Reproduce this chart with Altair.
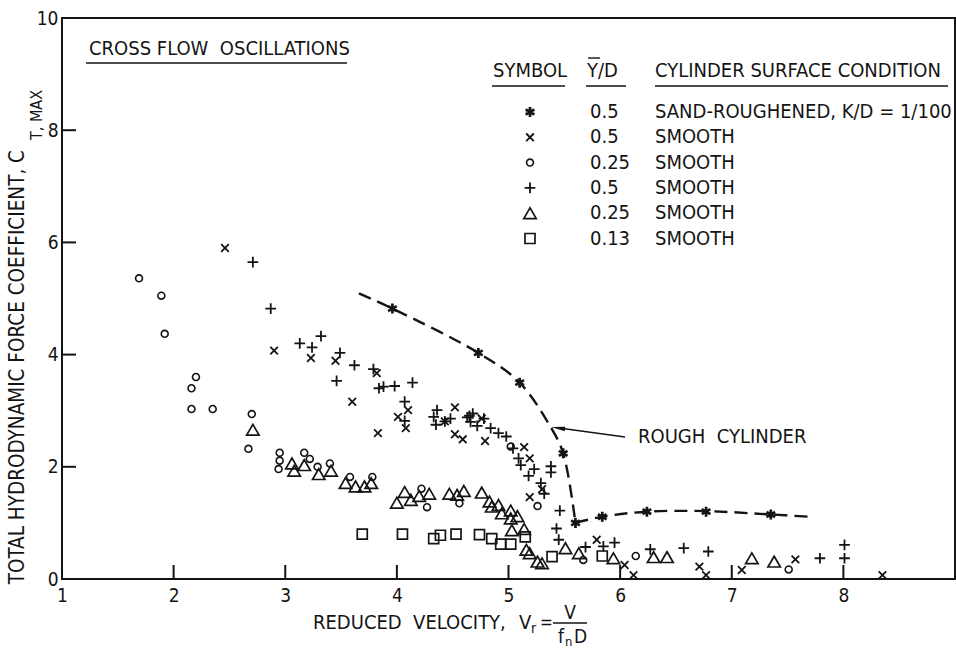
import altair as alt
import pandas as pd

# ---------------- data ----------------
# Sand-roughened cylinder, Y/D = 0.5  (asterisks)
rough_x = [3.96, 4.73, 5.10, 5.49, 5.60, 5.84, 6.24, 6.77, 7.35]
rough_y = [4.82, 4.03, 3.50, 2.24, 1.00, 1.11, 1.20, 1.20, 1.15]

# dashed fairing curve through the rough-cylinder results (falling and level branches)
curve_fall_x = [3.66, 3.96, 4.73, 5.10, 5.38, 5.49, 5.60]
curve_fall_y = [5.09, 4.82, 4.03, 3.50, 2.70, 2.24, 1.00]
curve_level_x = [5.60, 5.84, 6.24, 6.77, 7.35, 7.70]
curve_level_y = [1.00, 1.11, 1.20, 1.21, 1.15, 1.11]

# Smooth, Y/D = 0.5  (crosses)
xmark_x = [2.46, 2.90, 3.23, 3.45, 3.60, 3.82, 3.83, 4.01, 4.10, 4.08, 4.43, 4.52,
           4.52, 4.59, 4.76, 4.79, 5.14, 5.19, 5.30, 5.19, 5.79, 6.04, 6.12, 6.71,
           6.77, 7.09, 7.57, 8.35]
xmark_y = [5.90, 4.07, 3.94, 3.89, 3.16, 3.67, 2.60, 2.89, 3.01, 2.69, 2.81, 3.06,
           2.58, 2.49, 2.86, 2.46, 2.35, 2.15, 1.60, 1.46, 0.70, 0.25, 0.07, 0.22,
           0.07, 0.16, 0.35, 0.07]

# Smooth, Y/D = 0.25  (circles)
circle_x = [1.69, 1.89, 1.92, 2.20, 2.16, 2.16, 2.35, 2.70, 2.67, 2.95, 2.95, 2.94,
            3.17, 3.22, 3.29, 3.40, 3.58, 3.78, 4.22, 4.27, 4.56, 5.02, 5.26, 5.67,
            6.14, 7.51]
circle_y = [5.36, 5.05, 4.37, 3.60, 3.40, 3.03, 3.03, 2.94, 2.32, 2.25, 2.11, 1.96,
            2.25, 2.14, 2.00, 2.06, 1.82, 1.82, 1.61, 1.28, 1.35, 2.36, 1.30, 0.34,
            0.41, 0.17]

# Smooth, Y/D = 0.5  (plus signs)
plus_x = [2.71, 2.87, 3.13, 3.24, 3.32, 3.49, 3.46, 3.62, 3.79, 3.84, 3.88, 3.98,
          4.14, 4.07, 4.07, 4.36, 4.33, 4.35, 4.43, 4.48, 4.63, 4.65, 4.68, 4.72,
          4.66, 4.78, 4.84, 4.91, 4.98, 5.04, 5.09, 5.11, 5.23, 5.18, 5.29, 5.32,
          5.38, 5.38, 5.46, 5.43, 5.45, 5.69, 5.85, 5.95, 6.27, 6.57, 6.79, 7.79,
          8.01, 8.01]
plus_y = [5.65, 4.82, 4.20, 4.13, 4.33, 4.03, 3.53, 3.81, 3.74, 3.40, 3.43, 3.44,
          3.50, 3.16, 2.82, 3.01, 2.89, 2.75, 2.81, 2.86, 2.88, 2.91, 2.95, 2.73,
          2.80, 2.86, 2.69, 2.60, 2.54, 2.33, 2.15, 2.03, 1.96, 1.84, 1.71, 1.52,
          2.01, 1.90, 1.22, 0.90, 0.70, 0.57, 0.58, 0.65, 0.53, 0.55, 0.49, 0.37,
          0.61, 0.37]

# Smooth, Y/D = 0.25  (triangles)
tri_x = [2.71, 3.06, 3.08, 3.17, 3.30, 3.41, 3.54, 3.63, 3.71, 3.77, 4.00, 4.07,
         4.125, 4.20, 4.29, 4.47, 4.54, 4.60, 4.76, 4.83, 4.85, 4.91, 4.94, 5.02,
         5.02, 5.08, 5.03, 5.14, 5.16, 5.19, 5.26, 5.30, 5.51, 5.63, 5.94, 6.30,
         6.42, 7.18, 7.38]
tri_y = [2.66, 2.06, 1.93, 2.03, 1.87, 1.93, 1.71, 1.65, 1.65, 1.71, 1.36, 1.55,
         1.41, 1.48, 1.52, 1.52, 1.50, 1.57, 1.54, 1.38, 1.29, 1.32, 1.17, 1.22,
         1.08, 1.12, 0.87, 0.89, 0.52, 0.46, 0.31, 0.28, 0.55, 0.46, 0.37, 0.39,
         0.39, 0.37, 0.31]

# Smooth, Y/D = 0.13  (squares)
square_x = [3.69, 4.05, 4.33, 4.39, 4.53, 4.74, 4.85, 4.93, 5.02, 5.15, 5.39, 5.84]
square_y = [0.80, 0.80, 0.72, 0.78, 0.80, 0.79, 0.72, 0.62, 0.62, 0.75, 0.40, 0.41]

# axis ticks
x_ticks = [1, 2, 3, 4, 5, 6, 7, 8]
y_ticks = [0, 2, 4, 6, 8, 10]

# legend table
legend_symbol = ["star", "x", "circle", "plus", "triangle", "square"]
legend_yd = ["0.5", "0.5", "0.25", "0.5", "0.25", "0.13"]
legend_cond = ["SAND-ROUGHENED, K/D = 1/100", "SMOOTH", "SMOOTH", "SMOOTH",
               "SMOOTH", "SMOOTH"]

# ---------------- styling ----------------
INK = "#141414"
FONT = "DejaVu Sans Condensed"
FS = 20
W, H = 893, 561
X_MIN, X_MAX, Y_MIN, Y_MAX = 1, 9, 0, 10
TICK_PX = 14

PLUS = "M-1,0L1,0M0,-1L0,1"
CROSS = "M-1,-1L1,1M-1,1L1,-1"
STAR = "M0,-1L0,1M-0.87,-0.5L0.87,0.5M-0.87,0.5L0.87,-0.5"
ARROW_HEAD = "M-1,0L1,-0.32L1,0.32Z"

SHAPES = {
    "star": (STAR, 100, 2.7),
    "x": (CROSS, 58, 1.8),
    "circle": ("circle", 48, 1.6),
    "plus": (PLUS, 115, 1.8),
    "triangle": ("triangle-up", 155, 1.7),
    "square": ("square", 100, 1.7),
}

xscale = alt.Scale(domain=[X_MIN, X_MAX], nice=False, zero=False)
yscale = alt.Scale(domain=[Y_MIN, Y_MAX], nice=False, zero=False)

x_axis = alt.Axis(values=x_ticks, title=None, grid=False, domain=False, ticks=False,
                  labelFont=FONT, labelFontSize=19, labelColor=INK, labelPadding=7,
                  labelFlush=False, format="d")
y_axis = alt.Axis(values=y_ticks, title=None, grid=False, domain=False, ticks=False,
                  labelFont=FONT, labelFontSize=19, labelColor=INK, labelPadding=4,
                  labelFlush=False, format="d")


def X(field="x"):
    return alt.X(f"{field}:Q", scale=xscale, axis=x_axis)


def Y(field="y"):
    return alt.Y(f"{field}:Q", scale=yscale, axis=y_axis)


def series(xs, ys, kind):
    shape, size, sw = SHAPES[kind]
    df = pd.DataFrame({"x": xs, "y": ys})
    return alt.Chart(df).mark_point(
        shape=shape, size=size, strokeWidth=sw, filled=False, color=INK, opacity=1
    ).encode(x=X(), y=Y())


def dashed(xs, ys):
    df = pd.DataFrame({"x": xs, "y": ys})
    return alt.Chart(df).mark_line(
        color=INK, strokeWidth=2.4, strokeDash=[13, 7], interpolate="catmull-rom"
    ).encode(x=X(), y=Y(), order="x:Q")


ONE = pd.DataFrame({"k": [0]})
NB = "\u00a0"


def text(label, px, py, size=FS, align="left", angle=0, baseline="middle"):
    return alt.Chart(pd.DataFrame({"t": [label]})).mark_text(
        font=FONT, fontSize=size, color=INK, align=align, baseline=baseline, angle=angle
    ).encode(x=alt.value(px), y=alt.value(py), text="t:N")


def seg(x1, y1, x2, y2, width=1.6):
    return alt.Chart(ONE).mark_rule(color=INK, strokeWidth=width).encode(
        x=alt.value(x1), y=alt.value(y1), x2=alt.value(x2), y2=alt.value(y2))


def symbol(kind, px, py):
    shape, size, sw = SHAPES[kind]
    return alt.Chart(ONE).mark_point(
        shape=shape, size=size, strokeWidth=sw, filled=False, color=INK, opacity=1
    ).encode(x=alt.value(px), y=alt.value(py))


layers = []

# inward tick marks: short strokes from each axis value into the plot
tick_x = pd.DataFrame({"x": x_ticks})
tick_y = pd.DataFrame({"y": y_ticks})
layers.append(alt.Chart(tick_x).mark_tick(
    orient="vertical", color=INK, thickness=2, size=TICK_PX, opacity=1
).encode(x=X(), y=alt.value(H - TICK_PX / 2)))
layers.append(alt.Chart(tick_y).mark_tick(
    orient="horizontal", color=INK, thickness=2, size=TICK_PX, opacity=1
).encode(y=Y(), x=alt.value(TICK_PX / 2)))

# dashed curve for the rough cylinder
layers.append(dashed(curve_fall_x, curve_fall_y))
layers.append(dashed(curve_level_x, curve_level_y))

# data series
layers.append(series(square_x, square_y, "square"))
layers.append(series(tri_x, tri_y, "triangle"))
layers.append(series(circle_x, circle_y, "circle"))
layers.append(series(xmark_x, xmark_y, "x"))
layers.append(series(plus_x, plus_y, "plus"))
layers.append(series(rough_x, rough_y, "star"))

# panel heading
layers.append(text("CROSS FLOW" + NB + " OSCILLATIONS", 27, 31))
layers.append(seg(24, 45, 285, 45, 1.4))

# legend heading
layers.append(text("SYMBOL", 431, 53))
layers.append(text("Y/D", 525, 53))
layers.append(text("CYLINDER SURFACE CONDITION", 593, 53))
layers.append(seg(430, 68, 503, 68, 1.4))
layers.append(seg(524, 68, 564, 68, 1.4))
layers.append(seg(593, 68, 886, 68, 1.4))
layers.append(seg(526, 40, 538, 40, 1.4))

# legend rows
row0, row_step = 94, 25.3
for i, (kind, yd, cond) in enumerate(zip(legend_symbol, legend_yd, legend_cond)):
    py = row0 + i * row_step
    layers.append(symbol(kind, 468, py))
    layers.append(text(yd, 528, py))
    layers.append(text(cond, 593, py))

# annotation with arrow
layers.append(text("ROUGH" + NB + " CYLINDER", 576, 419))
layers.append(seg(563, 419, 497, 410, 1.4))
layers.append(alt.Chart(ONE).mark_point(
    shape=ARROW_HEAD, size=200, filled=True, color=INK, opacity=1, strokeWidth=0
).encode(x=alt.value(496), y=alt.value(410), angle=alt.value(8)))

# y-axis title with subscript
layers.append(text("TOTAL HYDRODYNAMIC FORCE COEFFICIENT, C", -44, 132,
                   size=20.5, align="right", angle=270))
layers.append(text("T, MAX", -25, 122, size=16, angle=270))

# x-axis title with fraction
layers.append(text("REDUCED" + NB + " VELOCITY," + NB + " ", 251, 605))
layers.append(text("V", 457, 605))
layers.append(text("r", 469, 611, size=14))
layers.append(text("=", 478, 605, size=17))
layers.append(seg(491, 605, 525, 605, 1.4))
layers.append(text("V", 508, 595, size=19, align="center"))
layers.append(text("f", 496, 619, size=19))
layers.append(text("n", 503, 624, size=13))
layers.append(text("D", 512, 619, size=19))

chart = alt.layer(*layers).properties(
    width=W, height=H,
    padding={"left": 62, "top": 18, "right": 1, "bottom": 73},
    autosize=alt.AutoSizeParams(type="none"),
    background="white",
).configure_view(stroke=INK, strokeWidth=2)

chart.save("out.html", embed_options={"renderer": "svg", "actions": False})
